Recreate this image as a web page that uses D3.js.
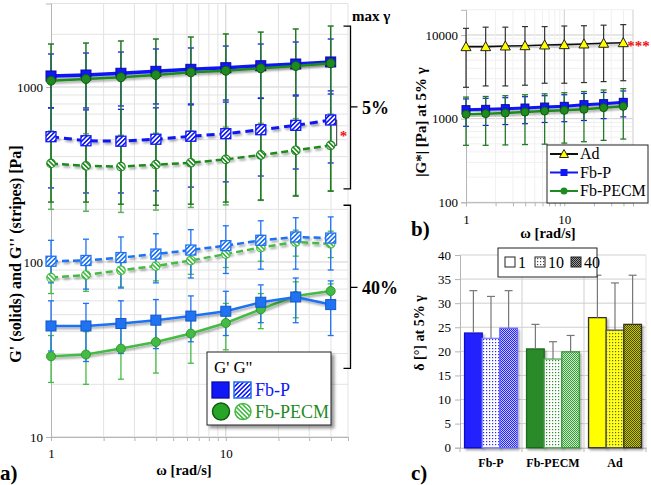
<!DOCTYPE html>
<html><head><meta charset="utf-8">
<script src="https://cdn.jsdelivr.net/npm/d3@7"></script>
<style>
body{margin:0;background:#fff;}
svg{display:block;font-family:"Liberation Serif","Times New Roman",serif;}
</style></head><body>
<svg id="fig" width="651" height="485"></svg>
<script>
// ---------- DATA ----------
const omega = [1, 1.585, 2.512, 3.981, 6.31, 10, 15.85, 25.12, 39.81];
const aXTicks = [1, 10];
const aYTicks = [10, 100, 1000];

// panel a, 5% strain
const fbP_Gp5      = [1156,1171,1198,1229,1262,1289,1323,1353,1390];
const fbP_Gp5_hi   = [1544,1564,1584,1649,1671,1714,1760,1807,1880];
const fbP_Gp5_lo   = [759,759,779,800,800,843,865,888,912];
const fbPECM_Gp5    = [1087,1111,1136,1171,1213,1239,1279,1318,1366];
const fbPECM_Gp5_hi = [1760,1783,1832,1880,1930,2010,2060,2145,2230];
const fbPECM_Gp5_lo = [220,220,214,211,214,220,226,238,254];
const fbP_Gpp5      = [520,493,490,503,523,541,570,604,648];
const fbP_Gpp5_hi   = [760,740,745,760,790,820,860,900,950];
const fbP_Gpp5_lo   = [265,248,248,255,268,287,310,340,368];
const fbPECM_Gpp5    = [366,354,351,360,369,386,409,435,464];
const fbPECM_Gpp5_hi = [560,540,530,545,560,590,620,660,700];
const fbPECM_Gpp5_lo = [200,195,192,198,205,212,225,240,255];
// panel a, 40% strain
const fbP_Gp40      = [43.1,43.1,44.5,46.5,49.1,52.3,58.9,63.1,57.1];
const fbP_Gp40_hi   = [60,58,60,61,64,68,74,81,78];
const fbP_Gp40_lo   = [31,27,30,32,35,38,45,45,38];
const fbPECM_Gp40    = [28.9,29.6,32.0,34.9,39.0,44.8,53.7,64.0,68.3];
const fbPECM_Gp40_hi = [38,40,43,47,52,58,66,77,75];
const fbPECM_Gp40_lo = [20.5,20,21.4,23.2,26.4,31.5,41.6,48,55];
const fbP_Gpp40      = [101,102,106,111,117,124,133,139,137];
const fbP_Gpp40_hi   = [133,135,139,145,153,161,172,179,181];
const fbP_Gpp40_lo   = [76,70,71,76,81,86,91,91,90];
const fbPECM_Gpp40    = [81.4,84.3,89.7,94.9,102,111,121,130,127];
const fbPECM_Gpp40_hi = [98,100,106,112,120,130,142,152,150];
const fbPECM_Gpp40_lo = [66,68,72,78,85,93,101,108,106];

// panel b, |G*| at 5%
const bYTicks = [100, 1000, 10000];
const ad_G    = [7250,7250,7390,7450,7600,7660,7810,7960,8090];
const ad_G_hi = [12000,12400,12400,12600,12600,12800,12900,13100,13300];
const ad_G_lo = [2370,2460,2460,2510,2650,2650,2700,2770,2840];
const fbP_G    = [1281,1292,1317,1339,1376,1403,1470,1511,1566];
const fbP_G_hi = [1720,1750,1780,1830,1880,1930,2000,2060,2140];
const fbP_G_lo = [810,830,850,870,900,920,950,1000,1050];
const fbPECM_G    = [1126,1148,1166,1199,1233,1256,1291,1354,1403];
const fbPECM_G_hi = [1810,1840,1880,1930,1980,2040,2110,2200,2280];
const fbPECM_G_lo = [480,480,485,490,495,510,530,550,570];

// panel c, delta at 5%
const cCats = ["Fb-P", "Fb-PECM", "Ad"];
const cFreqs = ["1", "10", "40"];
const cYTicks = [0,5,10,15,20,25,30,35,40];
const deltaFbP    = [23.8, 22.7, 24.8];
const deltaFbP_sd = [8.8, 8.7, 7.8];
const deltaFbPECM    = [20.5, 18.4, 19.9];
const deltaFbPECM_sd = [5.1, 3.6, 3.4];
const deltaAd    = [27.0, 24.4, 25.6];
const deltaAd_sd = [8.8, 9.8, 10.2];

// ---------- STYLE ----------
const BLUE = "#1018f5", BLUE_D = "#0a0aa8";
const GREEN = "#1f8a1f", GREEN_D = "#0f5c0f", GREEN_E = "#237a23", GREEN_E2 = "#62ad62";
const BLUE40 = "#1f72f2", GREEN40 = "#44bb44";
const GRID = "#e3e3e3", GRID_M = "#cfcfcf", AXIS = "#b5b5b5";

const svg = d3.select("#fig");
const defs = svg.append("defs");

function shadow(id, dx, dy, sd, op) {
  const f = defs.append("filter").attr("id", id).attr("x", "-30%").attr("y", "-30%").attr("width", "160%").attr("height", "160%");
  f.append("feDropShadow").attr("dx", dx).attr("dy", dy).attr("stdDeviation", sd)
    .attr("flood-color", "#000").attr("flood-opacity", op);
}
shadow("sh", 1.5, 2, 1.2, 0.35);
shadow("shBox", 3, 3, 1.5, 0.4);

function stripes(id, color, angle) {
  const p = defs.append("pattern").attr("id", id).attr("patternUnits", "userSpaceOnUse")
    .attr("width", 3.2).attr("height", 3.2).attr("patternTransform", `rotate(${angle})`);
  p.append("rect").attr("width", 3.2).attr("height", 3.2).attr("fill", "#fff");
  p.append("rect").attr("width", 1.6).attr("height", 3.2).attr("fill", color);
}
stripes("stBlue", BLUE, 45);
stripes("stBlue40", BLUE40, 45);
stripes("stGreen", GREEN, -45);
stripes("stGreen40", GREEN40, -45);

function dots(id, bg, color) {
  const p = defs.append("pattern").attr("id", id).attr("patternUnits", "userSpaceOnUse").attr("width", 3).attr("height", 3);
  p.append("rect").attr("width", 3).attr("height", 3).attr("fill", bg);
  p.append("rect").attr("width", 1.2).attr("height", 1.2).attr("fill", color);
}
function checker(id, a, b) {
  const p = defs.append("pattern").attr("id", id).attr("patternUnits", "userSpaceOnUse").attr("width", 2).attr("height", 2);
  p.append("rect").attr("width", 2).attr("height", 2).attr("fill", b);
  p.append("rect").attr("width", 1).attr("height", 1).attr("fill", a);
  p.append("rect").attr("x", 1).attr("y", 1).attr("width", 1).attr("height", 1).attr("fill", a);
}
dots("dBlue", "#fff", "#2a2aff");
dots("dGreen", "#fff", "#2a8f2a");
dots("dAd", "#ffff20", "#6b6b00");
dots("dLeg", "#fff", "#444");
checker("cBlue", "#2020ff", "#c8c8ff");
checker("cGreen", "#3a9a3a", "#c8ecc8");
checker("cAd", "#4a4a00", "#c9c900");
checker("cLeg", "#222", "#999");

// ---------- helpers ----------
function errBars(g, x, y, xs, hi, lo, color, cap, w) {
  const gg = g.append("g").attr("stroke", color).attr("stroke-width", w).attr("fill", "none");
  xs.forEach((xv, i) => {
    const X = x(xv), Y1 = y(hi[i]), Y2 = y(lo[i]);
    gg.append("line").attr("x1", X).attr("x2", X).attr("y1", Y1).attr("y2", Y2);
    gg.append("line").attr("x1", X - cap).attr("x2", X + cap).attr("y1", Y1).attr("y2", Y1);
    gg.append("line").attr("x1", X - cap).attr("x2", X + cap).attr("y1", Y2).attr("y2", Y2);
  });
}
function seriesLine(g, x, y, xs, vals, color, w, dash) {
  g.append("path").datum(vals.map((v, i) => [xs[i], v]))
    .attr("d", d3.line().x(d => x(d[0])).y(d => y(d[1])))
    .attr("fill", "none").attr("stroke", color).attr("stroke-width", w)
    .attr("stroke-dasharray", dash || null).attr("filter", "url(#sh)");
}
function markers(g, x, y, xs, vals, shape, size, fill, stroke, sw) {
  const gg = g.append("g");
  vals.forEach((v, i) => {
    const X = x(xs[i]), Y = y(v);
    if (shape === "square") {
      gg.append("rect").attr("x", X - size / 2).attr("y", Y - size / 2).attr("width", size).attr("height", size)
        .attr("fill", fill).attr("stroke", stroke).attr("stroke-width", sw);
    } else if (shape === "circle") {
      gg.append("circle").attr("cx", X).attr("cy", Y).attr("r", size / 2)
        .attr("fill", fill).attr("stroke", stroke).attr("stroke-width", sw);
    } else {
      const s = size / 2;
      gg.append("path").attr("d", `M${X},${Y - s}L${X + s},${Y + s * 0.8}L${X - s},${Y + s * 0.8}Z`)
        .attr("fill", fill).attr("stroke", stroke).attr("stroke-width", sw);
    }
  });
}

// ================= PANEL A =================
const xA = d3.scaleLog().domain([1, 50]).range([51, 348]);
const yA = d3.scaleLog().domain([10, 3000]).range([437, 3.5]);
const gA = svg.append("g");

// grid
yA.ticks().forEach(t => {
  const major = aYTicks.includes(t);
  gA.append("line").attr("x1", 51).attr("x2", 348).attr("y1", yA(t)).attr("y2", yA(t))
    .attr("stroke", major ? GRID_M : GRID).attr("stroke-width", 1);
});
xA.ticks().forEach(t => {
  if (t <= 1) return;
  gA.append("line").attr("x1", xA(t)).attr("x2", xA(t)).attr("y1", 3.5).attr("y2", 437)
    .attr("stroke", aXTicks.includes(t) ? GRID_M : GRID).attr("stroke-width", 1);
});
// axes
const axLA = gA.append("g").attr("transform", "translate(51,0)")
  .call(d3.axisLeft(yA).tickValues(aYTicks).tickFormat(d3.format("d")).tickSize(5));
axLA.selectAll("text").attr("font-size", 13).attr("font-family", "Liberation Serif").attr("fill", "#000");
const axBA = gA.append("g").attr("transform", "translate(0,437)")
  .call(d3.axisBottom(xA).tickValues(xA.ticks()).tickFormat(d => aXTicks.includes(d) ? d : "").tickSize(4).tickPadding(8));
axBA.selectAll("text").attr("font-size", 13).attr("font-family", "Liberation Serif").attr("fill", "#000");
[axLA, axBA].forEach(a => { a.select(".domain").attr("stroke", AXIS); a.selectAll("line").attr("stroke", AXIS); });

// error bars
errBars(gA, xA, yA, omega, fbP_Gpp5_hi, fbP_Gpp5_lo, BLUE, 3, 1.3);
errBars(gA, xA, yA, omega, fbP_Gp5_hi, fbP_Gp5_lo, BLUE, 3, 1.3);
errBars(gA, xA, yA, omega, fbPECM_Gpp5_hi, fbPECM_Gpp5_lo, GREEN_E2, 3, 1.5);
errBars(gA, xA, yA, omega, fbPECM_Gp5_hi, fbPECM_Gp5_lo, GREEN_E, 3, 1.5);
errBars(gA, xA, yA, omega, fbPECM_Gp40_hi, fbPECM_Gp40_lo, GREEN40, 3, 1.3);
errBars(gA, xA, yA, omega, fbPECM_Gpp40_hi, fbPECM_Gpp40_lo, GREEN40, 3, 1.3);
errBars(gA, xA, yA, omega, fbP_Gp40_hi, fbP_Gp40_lo, BLUE40, 3, 1.3);
errBars(gA, xA, yA, omega, fbP_Gpp40_hi, fbP_Gpp40_lo, BLUE40, 3, 1.3);

// lines + markers (40%)
seriesLine(gA, xA, yA, omega, fbPECM_Gpp40, GREEN40, 2.5, "7,4");
markers(gA, xA, yA, omega, fbPECM_Gpp40, "circle", 8.5, "url(#stGreen40)", GREEN40, 1.2);
seriesLine(gA, xA, yA, omega, fbP_Gpp40, BLUE40, 2.5, "7,4");
markers(gA, xA, yA, omega, fbP_Gpp40, "square", 10, "url(#stBlue40)", BLUE40, 1.3);
seriesLine(gA, xA, yA, omega, fbPECM_Gp40, GREEN40, 2.5);
markers(gA, xA, yA, omega, fbPECM_Gp40, "circle", 9, GREEN40, "#2f9a2f", 1);
seriesLine(gA, xA, yA, omega, fbP_Gp40, BLUE40, 2.5);
markers(gA, xA, yA, omega, fbP_Gp40, "square", 10, BLUE40, "#1558c8", 1);
// 5%
seriesLine(gA, xA, yA, omega, fbPECM_Gpp5, GREEN, 2.5, "7,4");
markers(gA, xA, yA, omega, fbPECM_Gpp5, "circle", 8.5, "url(#stGreen)", GREEN, 1.2);
seriesLine(gA, xA, yA, omega, fbP_Gpp5, BLUE, 3, "8,5");
markers(gA, xA, yA, omega, fbP_Gpp5, "square", 10, "url(#stBlue)", BLUE, 1.3);
seriesLine(gA, xA, yA, omega, fbP_Gp5, BLUE, 3.5);
markers(gA, xA, yA, omega, fbP_Gp5, "square", 10, BLUE, BLUE_D, 1);
seriesLine(gA, xA, yA, omega, fbPECM_Gp5, GREEN, 2.5);
markers(gA, xA, yA, omega, fbPECM_Gp5, "circle", 9, GREEN, GREEN_D, 1);

// significance connector for G'' at 5%
const lastI = omega.length - 1;
const cx0 = xA(omega[lastI]) + 6;
gA.append("path")
  .attr("d", `M${cx0 - 2},${yA(fbP_Gpp5[lastI])}H${cx0}V${yA(fbPECM_Gpp5[lastI])}H${cx0 - 2}`)
  .attr("fill", "none").attr("stroke", "#333").attr("stroke-width", 1);
gA.append("text").attr("x", cx0 + 3).attr("y", (yA(fbP_Gpp5[lastI]) + yA(fbPECM_Gpp5[lastI])) / 2 + 8)
  .attr("fill", "#e11").attr("font-size", 15).attr("font-weight", "bold").text("*");

// brackets (strain levels)
const brackets = [
  { label: "5%", top: 2230, bottom: 262, mid: 769 },
  { label: "40%", top: 211, bottom: 24.7, mid: 71.7 }
];
const bx = 350.5;
brackets.forEach(b => {
  gA.append("path").attr("d", `M${bx - 7},${yA(b.top)}H${bx}V${yA(b.bottom)}H${bx - 7}M${bx},${yA(b.mid)}H${bx + 7}`)
    .attr("fill", "none").attr("stroke", "#000").attr("stroke-width", 1.3);
  gA.append("text").attr("x", 362).attr("y", yA(b.mid) + 7).attr("font-size", 18).attr("font-weight", "bold").text(b.label);
});
gA.append("text").attr("x", 352).attr("y", 21).attr("font-size", 15).attr("font-weight", "bold").text("max γ");

// titles
gA.append("text").attr("x", 184).attr("y", 475).attr("text-anchor", "middle").attr("font-size", 14.5)
  .attr("font-weight", "bold").text("ω [rad/s]");
gA.append("text").attr("transform", "translate(21,254) rotate(-90)").attr("text-anchor", "middle")
  .attr("font-size", 16).attr("font-weight", "bold").text("G' (solids) and G'' (stripes) [Pa]");
gA.append("text").attr("x", 0).attr("y", 480).attr("font-size", 21).attr("font-weight", "bold").text("a)");

// legend a
const lgA = gA.append("g");
lgA.append("rect").attr("x", 207).attr("y", 352).attr("width", 124).attr("height", 73)
  .attr("fill", "#fff").attr("stroke", "#222").attr("stroke-width", 1).attr("filter", "url(#shBox)");
lgA.append("text").attr("x", 214).attr("y", 373).attr("font-size", 17).text("G' G''");
lgA.append("rect").attr("x", 212).attr("y", 382).attr("width", 17).attr("height", 16).attr("fill", BLUE).attr("stroke", BLUE_D).attr("stroke-width", 1.3);
lgA.append("rect").attr("x", 234).attr("y", 382).attr("width", 17).attr("height", 16).attr("fill", "url(#stBlue)").attr("stroke", BLUE40).attr("stroke-width", 1.5);
lgA.append("text").attr("x", 255).attr("y", 396).attr("font-size", 18).attr("fill", BLUE).text("Fb-P");
lgA.append("circle").attr("cx", 221).attr("cy", 411.5).attr("r", 8.5).attr("fill", "#27a527").attr("stroke", GREEN_D).attr("stroke-width", 1.5);
lgA.append("circle").attr("cx", 243).attr("cy", 411.5).attr("r", 8).attr("fill", "url(#stGreen40)").attr("stroke", GREEN40).attr("stroke-width", 1.5);
lgA.append("text").attr("x", 255).attr("y", 418).attr("font-size", 18).attr("fill", GREEN).text("Fb-PECM");

// ================= PANEL B =================
const xB = d3.scaleLog().domain([1, 50]).range([466, 633]);
const yB = d3.scaleLog().domain([100, 20000]).range([202.3, 9.8]);
const gB = svg.append("g");
yB.ticks().forEach(t => {
  const major = bYTicks.includes(t);
  gB.append("line").attr("x1", 466).attr("x2", 633).attr("y1", yB(t)).attr("y2", yB(t))
    .attr("stroke", major ? GRID_M : "#f0f0f0");
});
xB.ticks().forEach(t => {
  if (t <= 1) return;
  gB.append("line").attr("x1", xB(t)).attr("x2", xB(t)).attr("y1", 9.8).attr("y2", 202.3)
    .attr("stroke", t === 10 || t === 50 ? GRID_M : "#f0f0f0");
});
const axLB = gB.append("g").attr("transform", "translate(466,0)")
  .call(d3.axisLeft(yB).tickValues(bYTicks).tickFormat(d3.format("d")).tickSize(5));
axLB.selectAll("text").attr("font-size", 13).attr("font-family", "Liberation Serif").attr("fill", "#000");
const axBB = gB.append("g").attr("transform", "translate(0,202.3)")
  .call(d3.axisBottom(xB).tickValues(xB.ticks()).tickFormat(d => aXTicks.includes(d) ? d : "").tickSize(4).tickPadding(8));
axBB.selectAll("text").attr("font-size", 13).attr("font-family", "Liberation Serif").attr("fill", "#000");
[axLB, axBB].forEach(a => { a.select(".domain").attr("stroke", AXIS); a.selectAll("line").attr("stroke", AXIS); });

errBars(gB, xB, yB, omega, ad_G_hi, ad_G_lo, "#333", 3, 1.2);
errBars(gB, xB, yB, omega, fbP_G_hi, fbP_G_lo, BLUE, 3, 1.2);
errBars(gB, xB, yB, omega, fbPECM_G_hi, fbPECM_G_lo, GREEN_E, 3, 1.3);
seriesLine(gB, xB, yB, omega, fbP_G, BLUE, 3);
markers(gB, xB, yB, omega, fbP_G, "square", 8, BLUE, BLUE_D, 1);
seriesLine(gB, xB, yB, omega, fbPECM_G, GREEN, 2.5);
markers(gB, xB, yB, omega, fbPECM_G, "circle", 8, GREEN, GREEN_D, 1);
seriesLine(gB, xB, yB, omega, ad_G, "#111", 1.6);
markers(gB, xB, yB, omega, ad_G, "tri", 10, "#ffff00", "#222", 1);
gB.append("text").attr("x", xB(omega[lastI]) + 4).attr("y", yB(ad_G[lastI]) + 8).attr("fill", "#e11")
  .attr("font-size", 15).attr("font-weight", "bold").text("***");

gB.append("text").attr("x", 548).attr("y", 238).attr("text-anchor", "middle").attr("font-size", 14.5)
  .attr("font-weight", "bold").text("ω [rad/s]");
gB.append("text").attr("transform", "translate(426,122) rotate(-90)").attr("text-anchor", "middle")
  .attr("font-size", 15).attr("font-weight", "bold").text("|G*| [Pa] at 5% γ");
gB.append("text").attr("x", 411).attr("y", 236).attr("font-size", 21).attr("font-weight", "bold").text("b)");

// legend b
const lgB = gB.append("g");
lgB.append("rect").attr("x", 547).attr("y", 145).attr("width", 101).attr("height", 58)
  .attr("fill", "#fff").attr("stroke", "#222").attr("stroke-width", 1);
const legB = [
  { name: "Ad", color: "#111", shape: "tri", fill: "#ffff00", stroke: "#222", y: 154 },
  { name: "Fb-P", color: BLUE, shape: "square", fill: BLUE, stroke: BLUE_D, y: 172.5 },
  { name: "Fb-PECM", color: GREEN, shape: "circle", fill: GREEN, stroke: GREEN_D, y: 191 }
];
legB.forEach(l => {
  lgB.append("line").attr("x1", 550).attr("x2", 578).attr("y1", l.y).attr("y2", l.y).attr("stroke", l.color).attr("stroke-width", 2);
  const s = 7, X = 564, Y = l.y;
  if (l.shape === "tri") lgB.append("path").attr("d", `M${X},${Y - 4.5}L${X + 4.5},${Y + 3.5}L${X - 4.5},${Y + 3.5}Z`).attr("fill", l.fill).attr("stroke", l.stroke);
  else if (l.shape === "square") lgB.append("rect").attr("x", X - s / 2).attr("y", Y - s / 2).attr("width", s).attr("height", s).attr("fill", l.fill);
  else lgB.append("circle").attr("cx", X).attr("cy", Y).attr("r", 3.5).attr("fill", l.fill);
  lgB.append("text").attr("x", 580).attr("y", l.y + 5).attr("font-size", 16).text(l.name);
});

// ================= PANEL C =================
const xC = d3.scaleBand().domain(cCats).range([460, 646]).paddingInner(0).paddingOuter(0);
const xCi = d3.scaleBand().domain(cFreqs).range([0, xC.bandwidth()]).paddingOuter(0.26).paddingInner(0);
const yC = d3.scaleLinear().domain([0, 40]).range([447.7, 255]);
const gC = svg.append("g");
cYTicks.forEach(t => {
  if (t === 0) return;
  gC.append("line").attr("x1", 460).attr("x2", 646).attr("y1", yC(t)).attr("y2", yC(t)).attr("stroke", GRID_M);
});
cCats.forEach((c, i) => {
  if (i === 0) return;
  gC.append("line").attr("x1", xC(c)).attr("x2", xC(c)).attr("y1", 255).attr("y2", 447.7).attr("stroke", GRID_M);
});
gC.append("line").attr("x1", 646).attr("x2", 646).attr("y1", 255).attr("y2", 447.7).attr("stroke", GRID);
const axLC = gC.append("g").attr("transform", "translate(460,0)")
  .call(d3.axisLeft(yC).tickValues(cYTicks).tickSize(5).tickPadding(4));
axLC.selectAll("text").attr("font-size", 13).attr("font-family", "Liberation Serif").attr("fill", "#000");
const axBC = gC.append("g").attr("transform", "translate(0,447.7)")
  .call(d3.axisBottom(xC).tickSize(0).tickPadding(11));
axBC.selectAll("text").attr("font-size", 12).attr("font-weight", "bold").attr("font-family", "Liberation Serif").attr("fill", "#000");
[axLC, axBC].forEach(a => { a.select(".domain").attr("stroke", AXIS); a.selectAll("line").attr("stroke", AXIS); });
[0, 1, 2, 3].forEach(i => {
  const X = i === 3 ? 646 : xC(cCats[i]);
  gC.append("line").attr("x1", X).attr("x2", X).attr("y1", 447.7).attr("y2", 452).attr("stroke", AXIS);
});

const cData = [
  { cat: "Fb-P", vals: deltaFbP, sd: deltaFbP_sd,
    fills: ["#2222ff", "url(#dBlue)", "url(#cBlue)"], strokes: ["#1010c8", "#8888ff", "#6a6aff"] },
  { cat: "Fb-PECM", vals: deltaFbPECM, sd: deltaFbPECM_sd,
    fills: ["#2a8a2a", "url(#dGreen)", "url(#cGreen)"], strokes: ["#1a6a1a", "#5aa85a", "#3a9a3a"] },
  { cat: "Ad", vals: deltaAd, sd: deltaAd_sd,
    fills: ["#ffff00", "url(#dAd)", "url(#cAd)"], strokes: ["#333", "#555", "#333"] }
];
cData.forEach(cd => {
  cd.vals.forEach((v, j) => {
    const X = xC(cd.cat) + xCi(cFreqs[j]), W = xCi.bandwidth();
    gC.append("rect").attr("x", X).attr("y", yC(v)).attr("width", W).attr("height", yC(0) - yC(v))
      .attr("fill", cd.fills[j]).attr("stroke", cd.strokes[j]).attr("stroke-width", 1.3).attr("filter", "url(#sh)");
  });
});
cData.forEach(cd => {
  cd.vals.forEach((v, j) => {
    const X = xC(cd.cat) + xCi(cFreqs[j]) + xCi.bandwidth() / 2;
    const top = yC(v + cd.sd[j]);
    gC.append("line").attr("x1", X).attr("x2", X).attr("y1", yC(v)).attr("y2", top).attr("stroke", "#777").attr("stroke-width", 1.2);
    gC.append("line").attr("x1", X - 4).attr("x2", X + 4).attr("y1", top).attr("y2", top).attr("stroke", "#777").attr("stroke-width", 1.2);
  });
});

// legend c
const lgC = gC.append("g");
lgC.append("rect").attr("x", 498).attr("y", 248).attr("width", 99).attr("height", 29)
  .attr("fill", "#fff").attr("stroke", "#222").attr("stroke-width", 1);
const legFill = ["#fff", "url(#dLeg)", "url(#cLeg)"];
const legX = [505, 535, 571];
cFreqs.forEach((f, j) => {
  lgC.append("rect").attr("x", legX[j]).attr("y", 257).attr("width", 10).attr("height", 10)
    .attr("fill", legFill[j]).attr("stroke", "#222").attr("stroke-width", 1);
  lgC.append("text").attr("x", legX[j] + 13).attr("y", 268).attr("font-size", 16).text(f);
});

gC.append("text").attr("transform", "translate(424,333) rotate(-90)").attr("text-anchor", "middle")
  .attr("font-size", 14).attr("font-weight", "bold").text("δ [°] at 5% γ");
gC.append("text").attr("x", 411).attr("y", 480).attr("font-size", 21).attr("font-weight", "bold").text("c)");
</script>
</body></html>
